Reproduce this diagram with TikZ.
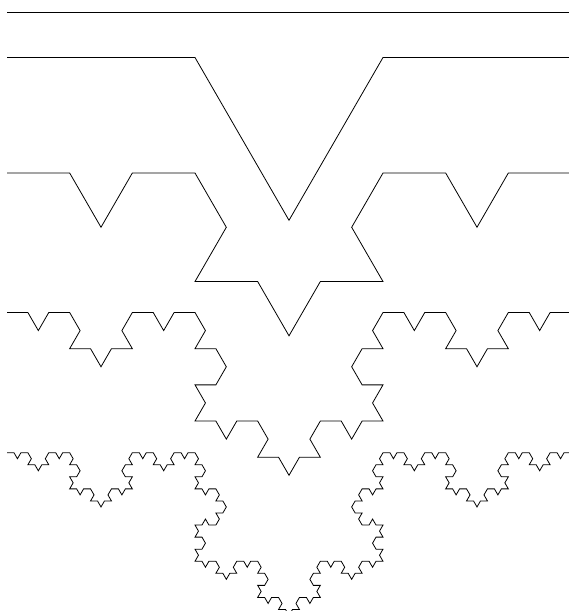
\documentclass[tikz,border=0pt]{standalone}
\usetikzlibrary{lindenmayersystems}
\pgfdeclarelindenmayersystem{kochdown}{\rule{F -> F-F++F-F}}
\begin{document}
\begin{tikzpicture}[x=1pt,y=1pt,
  kline/.style={line width=0.8pt, black, line join=miter}]
\useasboundingbox (0,0) rectangle (569,611);
\fill[white] (0,0) rectangle (569,611);
\clip (0,0) rectangle (569,611);
\coordinate (s0) at (7,598.5);
\coordinate (e0) at (571,598.5);
\draw[kline] (s0) -- (e0);
\begin{scope}[shift={(7,553.5)}]
\coordinate (s1) at (0,0);
\draw[kline, l-system={kochdown, axiom=F, order=1, step=188pt, angle=60}] (s1) lindenmayer system;
\end{scope}
\begin{scope}[shift={(7,438)}]
\coordinate (s2) at (0,0);
\draw[kline, l-system={kochdown, axiom=F, order=2, step=62.667pt, angle=60}] (s2) lindenmayer system;
\end{scope}
\begin{scope}[shift={(7,298.5)}]
\coordinate (s3) at (0,0);
\draw[kline, l-system={kochdown, axiom=F, order=3, step=20.889pt, angle=60}] (s3) lindenmayer system;
\end{scope}
\begin{scope}[shift={(7,158.3)}]
\coordinate (s4) at (0,0);
\draw[kline, l-system={kochdown, axiom=F, order=4, step=6.963pt, angle=60}] (s4) lindenmayer system;
\end{scope}
\end{tikzpicture}
\end{document}
